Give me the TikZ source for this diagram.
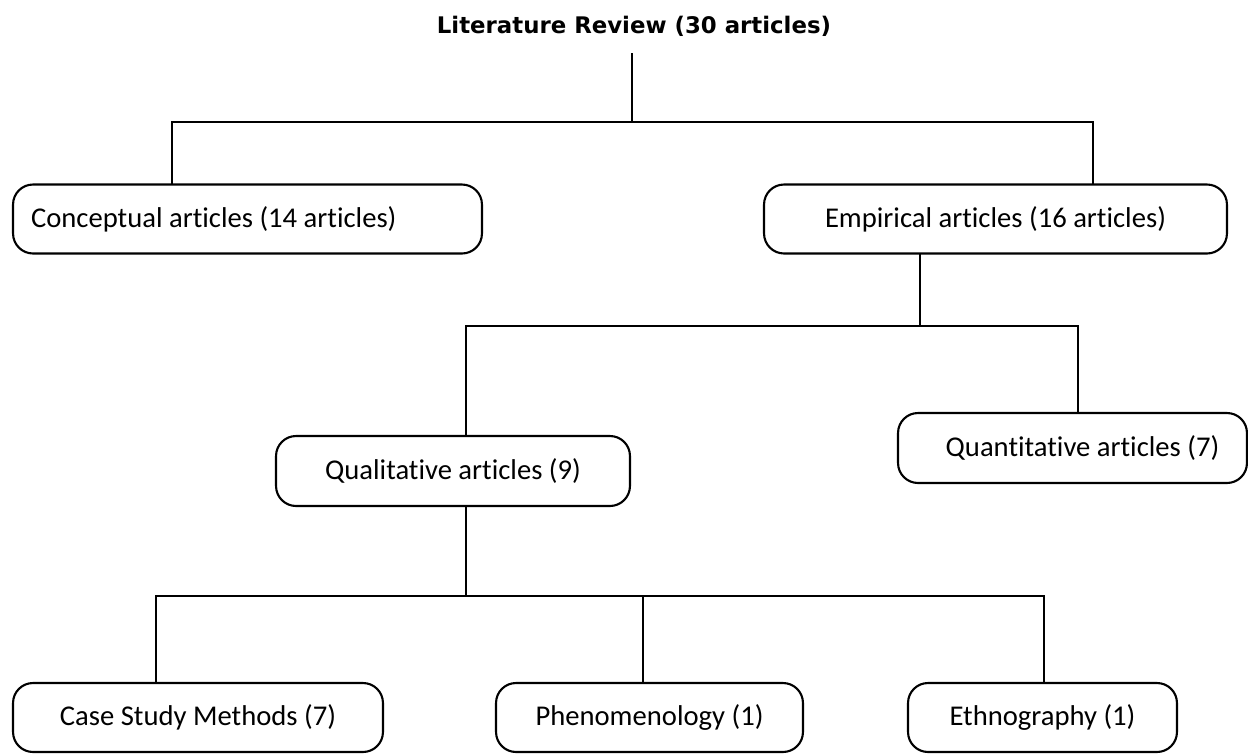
\documentclass[tikz,border=0pt]{standalone}
\usepackage{fontspec}
\setmainfont{Carlito}[Ligatures=NoCommon]
\newfontfamily\headfont{DejaVu Sans}
\usetikzlibrary{positioning}

\begin{document}
\begin{tikzpicture}[
    x=0.02cm,
    y=-0.02cm,
    font=\fontsize{16.3pt}{19pt}\selectfont,
    line width=1.2pt,
    title/.style={
        font=\headfont\bfseries\fontsize{13pt}{15pt}\selectfont,
        inner xsep=0pt,
        inner ysep=9.7pt,
        outer sep=0pt
    },
    box/.style={
        rectangle,
        rounded corners=0.4cm,
        draw,
        align=center,
        outer sep=0pt,
        minimum height=1.38cm
    },
    link/.style={line width=1.2pt}
]

\useasboundingbox (0,0) rectangle (1248,754);

% Title
\node[title, anchor=base] (review) at (634,33) {Literature Review (30 articles)};

% First level
\node[box, minimum width=9.38cm, text width=8.66cm, inner xsep=0.36cm, align=flush left]
    (concept) at (247.5,219) {Conceptual articles (14 articles)};
\node[box, minimum width=9.26cm] (empir) at (995.5,219) {Empirical articles (16 articles)};

% Second level
\node[box, minimum width=7.08cm, minimum height=1.4cm] (qual) at (453,471) {Qualitative articles (9)};
\node[box, minimum width=6.98cm, minimum height=1.4cm] (quant) at (1072.5,448) {\hspace{0.4cm}Quantitative articles (7)};

% Third level
\node[box, minimum width=7.4cm] (casest) at (198,717.5) {Case Study Methods (7)};
\node[box, minimum width=6.14cm] (phenom) at (649.5,717.5) {Phenomenology (1)};
\node[box, minimum width=5.38cm] (ethno) at (1042.5,717.5) {Ethnography (1)};

% Junction points
\coordinate (t0) at (632,122);
\coordinate (t1) at (172,122);
\coordinate (t2) at (1093,122);
\coordinate (m0) at (920,326);
\coordinate (m1) at (466,326);
\coordinate (m2) at (1078,326);
\coordinate (b0) at (466,596);
\coordinate (b1) at (156,596);
\coordinate (b2) at (643,596);
\coordinate (b3) at (1044,596);

% Top split
\draw[link] (review.south -| t0) -- (t0);
\draw[link] (t1 |- concept.north) -- (t1) -- (t2) -- (t2 |- empir.north);

% Empirical split
\draw[link] (m0 |- empir.south) -- (m0);
\draw[link] (m1 |- qual.north) -- (m1) -- (m2) -- (m2 |- quant.north);

% Qualitative split
\draw[link] (b0 |- qual.south) -- (b0);
\draw[link] (b1 |- casest.north) -- (b1) -- (b3) -- (b3 |- ethno.north);
\draw[link] (b2) -- (b2 |- phenom.north);

\end{tikzpicture}
\end{document}
